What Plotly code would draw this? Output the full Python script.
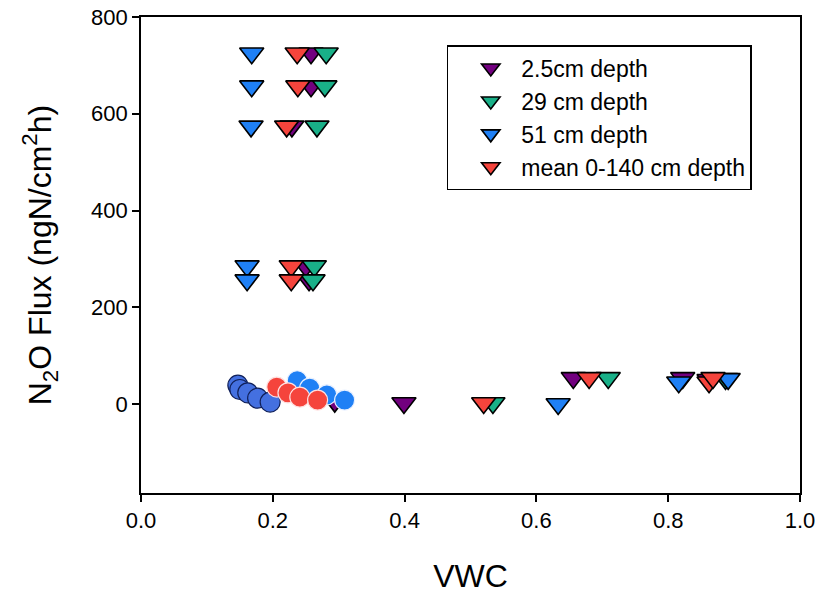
import plotly.graph_objects as go

# Triangle series (VWC, flux)
d25_x = [0.258, 0.258, 0.229, 0.250, 0.255, 0.294, 0.399, 0.656, 0.822, 0.862]
d25_y = [725, 657, 574, 285, 256, 5, 2, 54, 54, 50]
d29_x = [0.281, 0.279, 0.267, 0.263, 0.261, 0.534, 0.709, 0.887]
d29_y = [725, 657, 574, 285, 256, 2, 54, 52]
d51_x = [0.168, 0.168, 0.167, 0.161, 0.161, 0.633, 0.816, 0.891]
d51_y = [725, 657, 574, 285, 256, 0, 45, 52]
mean_x = [0.237, 0.238, 0.221, 0.228, 0.228, 0.520, 0.680, 0.862, 0.868]
mean_y = [725, 657, 574, 285, 256, 2, 54, 45, 54]

# Circle series
c_dark_x = [0.147, 0.150, 0.162, 0.177, 0.196]
c_dark_y = [39, 30, 23, 12, 4]
c_red_x = [0.206, 0.223, 0.241, 0.268]
c_red_y = [35, 23, 14, 8]
c_bright_x = [0.237, 0.256, 0.282, 0.309]
c_bright_y = [48, 33, 19, 8]

x_ticks = [0.0, 0.2, 0.4, 0.6, 0.8, 1.0]
y_ticks = [0, 200, 400, 600, 800]

PURPLE = "#72007F"
GREEN = "#19B088"
BLUE = "#1F80F5"
RED = "#F5443C"
ROYAL = "#4470E0"

FONT = "Arial, Liberation Sans, sans-serif"

fig = go.Figure()

def tri(x, y, color, name):
    fig.add_trace(go.Scatter(
        x=x, y=y, mode="markers", name=name, legendgroup=name,
        marker=dict(symbol="triangle-down", size=21, color=color,
                    line=dict(color="black", width=1.6)),
    ))

tri(d25_x, d25_y, PURPLE, "2.5cm depth")
tri(d29_x, d29_y, GREEN, "29 cm depth")
tri(d51_x, d51_y, BLUE, "51 cm depth")
tri(mean_x, mean_y, RED, "mean 0-140 cm depth")

def circ(x, y, color, lc, name):
    fig.add_trace(go.Scatter(
        x=x, y=y, mode="markers", name=name, showlegend=False,
        marker=dict(symbol="circle", size=20, color=color,
                    line=dict(color=lc, width=1.2)),
    ))

circ(c_dark_x, c_dark_y, ROYAL, "#10205A", "circles a")
circ(c_bright_x, c_bright_y, BLUE, "#E8F0FF", "circles b")
circ(c_red_x, c_red_y, RED, "#FFE0E0", "circles c")

fig.update_layout(
    width=825, height=594,
    margin=dict(l=133, r=33, t=9, b=109),
    paper_bgcolor="white", plot_bgcolor="white",
    font=dict(family=FONT, color="black"),
    legend=dict(
        x=0.464, y=0.941, xanchor="left", yanchor="top",
        bordercolor="black", borderwidth=1.5,
        font=dict(size=23, family=FONT),
        tracegroupgap=0, itemsizing="trace",
        itemwidth=51, indentation=12,
        bgcolor="white",
    ),
)

fig.update_xaxes(
    range=[0, 1], tickvals=x_ticks, ticktext=[f"{v:.1f}" for v in x_ticks],
    showline=True, linecolor="black", linewidth=1.6, mirror=True,
    ticks="outside", ticklen=7, tickwidth=1.5, tickcolor="black",
    showgrid=False, zeroline=False, automargin=False,
    ticklabeloverflow="allow",
    tickfont=dict(size=22, family=FONT),
    title=dict(text="VWC", font=dict(size=32, family=FONT), standoff=32),
)
fig.update_yaxes(
    range=[-184, 800], tickvals=y_ticks, ticktext=[str(v) for v in y_ticks],
    showline=True, linecolor="black", linewidth=1.6, mirror=True,
    ticks="outside", ticklen=7, tickwidth=1.5, tickcolor="black",
    showgrid=False, zeroline=False, automargin=False,
    ticklabeloverflow="allow",
    tickfont=dict(size=22, family=FONT),
    title=dict(text="N<sub>2</sub>O Flux (ngN/cm<sup>2</sup>h)",
               font=dict(size=32, family=FONT), standoff=30),
)

fig.write_html("out.html")
